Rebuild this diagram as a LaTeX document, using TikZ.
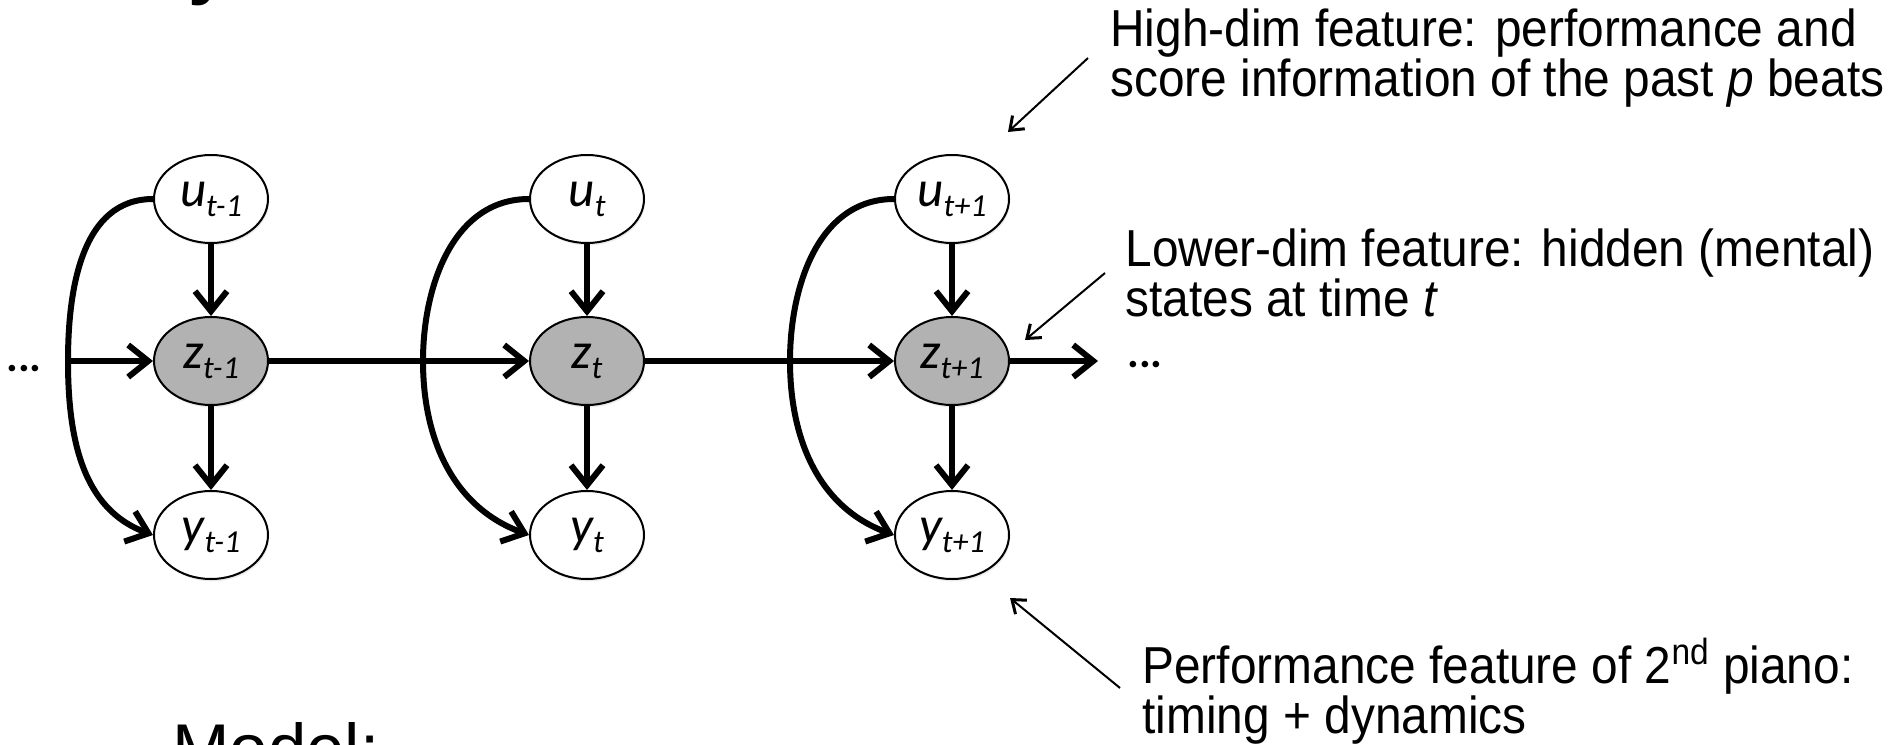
\documentclass[tikz,border=0pt]{standalone}
\usepackage{fontspec}
\setmainfont{Liberation Sans}
\newfontfamily\annfont[FakeStretch=0.92]{Liberation Sans}
\newfontfamily\calfont{Carlito}
\usetikzlibrary{arrows.meta,shapes.geometric,shadows}
\newcommand{\nlbl}[2]{{\calfont\itshape\fontsize{25.5}{25.5}\selectfont #1\raisebox{-5pt}{\fontsize{16}{16}\selectfont #2}}}
\begin{document}
\begin{tikzpicture}[x=0.5pt,y=-0.5pt,
  var/.style={ellipse, draw=black, line width=1pt, minimum width=57pt, minimum height=44pt, inner sep=0pt, fill=white,
    drop shadow={opacity=0.15,shadow xshift=0.6pt,shadow yshift=-1.2pt}},
  hid/.style={var, fill=black!30},
  edge/.style={line width=3pt, -{Straight Barb[length=10pt,width=16pt]}},
  note/.style={line width=1pt, -{Straight Barb[length=6pt,width=9pt,line width=1.5pt]}},
  ann/.style={anchor=base west, align=left, inner sep=0pt, font=\annfont\fontsize{26}{25}\selectfont},
  dots/.style={anchor=base west, inner sep=0pt, font=\calfont\bfseries\fontsize{22}{22}\selectfont}
]
\useasboundingbox (0,0) rectangle (1888,744);
\fill[white] (0,0) rectangle (1888,744);

% partial title / model text (cut by the page edges)
\node[anchor=base west, inner sep=0pt, font=\bfseries\fontsize{37}{37}\selectfont] (ttl) at (188,-10) {y};
\node[anchor=base west, inner sep=0pt, font=\fontsize{34.5}{34.5}\selectfont] (model) at (172,772) {Model:};

% nodes
\node[var] (u1) at (211,199) {\nlbl{u}{t-1}};
\node[hid] (z1) at (211,361) {\nlbl{z}{t-1}};
\node[var] (y1) at (211,535) {\nlbl{y}{t-1}};
\node[var] (u2) at (587,199) {\nlbl{u}{t}};
\node[hid] (z2) at (587,361) {\nlbl{z}{t}};
\node[var] (y2) at (587,535) {\nlbl{y}{t}};
\node[var] (u3) at (952,199) {\nlbl{u}{t+1}};
\node[hid] (z3) at (952,361) {\nlbl{z}{t+1}};
\node[var] (y3) at (952,535) {\nlbl{y}{t+1}};

\coordinate (a1) at (68,361);
\coordinate (a2) at (423,361);
\coordinate (a3) at (790,361);
\coordinate (e3) at (1098,361);

% vertical arrows and skip arcs
\foreach \i in {1,2,3}{
  \draw[edge] (u\i.south) -- (z\i.north);
  \draw[edge] (z\i.south) -- (y\i.north);
  \draw[edge] (u\i.west) to[out=180,in=90] (a\i) to[out=-90,in=160] (y\i.west);
}
% horizontal chain
\draw[edge] (a1) -- (z1.west);
\draw[edge] (z1.east) -- (z2.west);
\draw[edge] (z2.east) -- (z3.west);
\draw[edge] (z3.east) -- (e3);

\node[dots] (dl) at (6,371) {...};
\node[dots] (dr) at (1127,367) {...};

% annotations (anchor = baseline of the last line)
\node[ann] (t1) at (1110,96) {High-dim feature: performance and\\score information of the past \textit{p} beats};
\node[ann] (t2) at (1125,316) {Lower-dim feature: hidden (mental)\\states at time \textit{t}};
\node[ann] (t3) at (1142,733) {Performance feature of 2\textsuperscript{nd} piano:\\timing + dynamics};

\coordinate (s1) at (1088,58);   \coordinate (p1) at (1008,132);
\coordinate (s2) at (1105,273);  \coordinate (p2) at (1025,340);
\coordinate (s3) at (1120,688);  \coordinate (p3) at (1010,598);
\draw[note] (s1) -- (p1);
\draw[note] (s2) -- (p2);
\draw[note] (s3) -- (p3);
\end{tikzpicture}
\end{document}
